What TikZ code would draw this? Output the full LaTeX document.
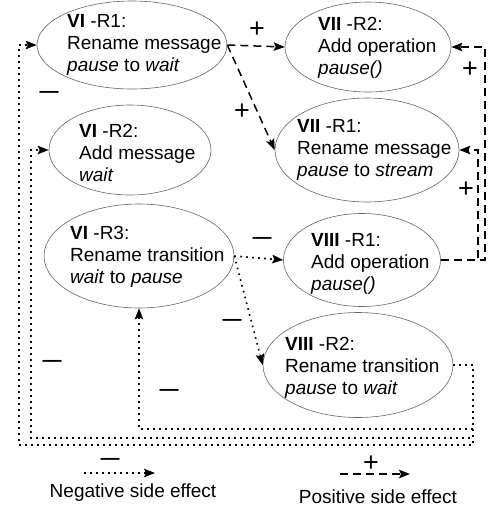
\documentclass[tikz,border=0pt]{standalone}
\usepackage{fontspec}
\setmainfont{Liberation Sans}
\usetikzlibrary{arrows.meta,shapes.geometric}
\begin{document}
\begin{tikzpicture}[x=1pt,y=-1pt,
  ell/.style={ellipse, draw=black!60, line width=0.6pt, inner sep=0pt},
  txt/.style={align=left, inner sep=0pt, font=\fontsize{19}{22}\selectfont, anchor=west},
  sign/.style={inner sep=0pt, font=\fontsize{19}{22}\selectfont\bfseries},
  plus/.style={inner sep=0pt, font=\fontsize{27}{30}\selectfont},
  tipx/.style={-{Stealth[length=11pt,width=8.5pt,inset=2pt]}},
  neglink/.style={tipx, line width=1.6pt, dash pattern=on 1.6pt off 4.4pt},
  poslink/.style={tipx, line width=1.5pt, dash pattern=on 8pt off 5pt},
]
\useasboundingbox (0,0) rectangle (488,512);
% ellipses
\node[ell, minimum width=190pt, minimum height=88pt] (A) at (132,45) {};
\node[ell, minimum width=162pt, minimum height=90pt] (B) at (130,150) {};
\node[ell, minimum width=190pt, minimum height=104pt] (C) at (139,256) {};
\node[ell, minimum width=166pt, minimum height=90pt] (D) at (368,47) {};
\node[ell, minimum width=184pt, minimum height=104pt] (E) at (367,150) {};
\node[ell, minimum width=157pt, minimum height=93pt] (F) at (362,260) {};
\node[ell, minimum width=190pt, minimum height=105pt] (G) at (358,365) {};
% texts
\node[txt] (tA) at (67,45) {\textbf{VI} -R1:\\Rename message\\\textit{pause} to \textit{wait}};
\node[txt] (tB) at (79,153) {\textbf{VI} -R2:\\Add message\\\textit{wait}};
\node[txt] (tC) at (70,257) {\textbf{VI} -R3:\\Rename transition\\\textit{wait} to \textit{pause}};
\node[txt] (tD) at (318,48) {\textbf{VII} -R2:\\Add operation\\\textit{pause()}};
\node[txt] (tE) at (297,150) {\textbf{VII} -R1:\\Rename message\\\textit{pause} to \textit{stream}};
\node[txt] (tF) at (311,264) {\textbf{VIII} -R1:\\Add operation\\\textit{pause()}};
\node[txt] (tG) at (285,368) {\textbf{VIII} -R2:\\Rename transition\\\textit{pause} to \textit{wait}};
% positive connectors
\draw[poslink] (A.east) -- (D.west);
\draw[poslink] (A.east) -- (E.west);
\coordinate (r1) at (485,260);
\coordinate (r2) at (478,260);
\draw[poslink] (F.east) -- (r1) |- (D.east);
\draw[poslink] (F.east) -- (r2) |- (E.east);
% negative connectors
\draw[neglink] (C.east) -- (F.west);
\draw[neglink] (C.east) -- (G.west);
\coordinate (p1) at (473,429);
\coordinate (p2) at (473,438);
\coordinate (q2) at (31,438);
\coordinate (p3) at (473,445);
\coordinate (q3) at (19,445);
\draw[neglink] (G.east) -| (p1) -| (C.south);
\draw[neglink] (G.east) -| (p2) -- (q2) |- (B.west);
\draw[neglink] (G.east) -| (p3) -- (q3) |- (A.west);
% signs
\node[plus] (s1) at (257,30) {+};
\node[plus] (s2) at (242,112) {+};
\node[plus] (s3) at (470,70) {+};
\node[plus] (s4) at (466,190) {+};
\node[sign] (m1) at (49,94) {—};
\node[sign] (m2) at (262,240) {—};
\node[sign] (m3) at (232,322) {—};
\node[sign] (m4) at (52,363) {—};
\node[sign] (m5) at (169,392) {—};
% legend
\coordinate (n1) at (84,473);
\coordinate (n2) at (155,473);
\draw[neglink] (n1) -- (n2);
\node[sign] (m6) at (110,461) {—};
\node[txt, anchor=center] (ln) at (133,493) {Negative side effect};
\coordinate (o1) at (340,474);
\coordinate (o2) at (410,474);
\draw[poslink] (o1) -- (o2);
\node[plus] (s5) at (371,464) {+};
\node[txt, anchor=center] (lp) at (378,497) {Positive side effect};
\end{tikzpicture}
\end{document}
